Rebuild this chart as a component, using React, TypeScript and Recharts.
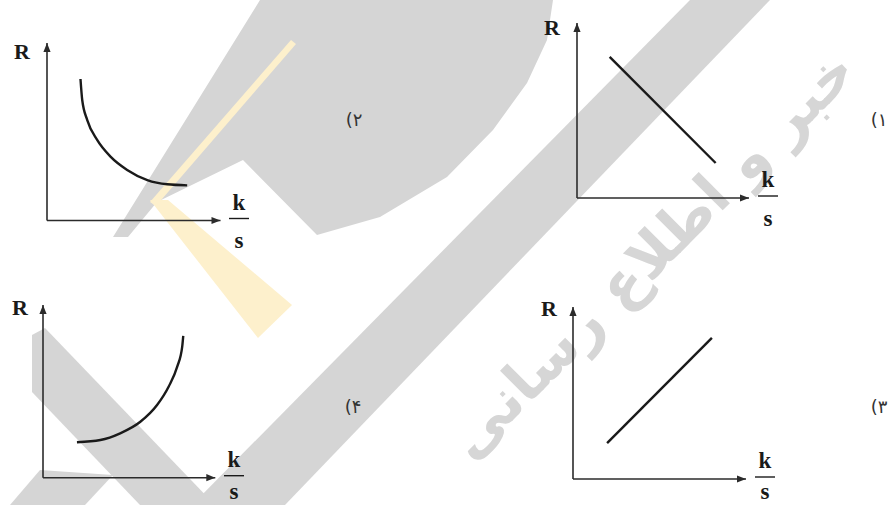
import { LineChart, Line, XAxis, YAxis, ReferenceDot, ReferenceLine } from "recharts";

// option 1: straight falling line
const line1X = [1.9, 8.06];
const line1R = [8.06, 2.0];
// option 2: falling curve
const curve2X = [1.93, 2.03, 2.32, 2.89, 3.66, 4.62, 5.78, 6.93, 8.08];
const curve2R = [7.97, 6.79, 5.66, 4.54, 3.6, 2.85, 2.28, 2.04, 1.98];
// option 3: straight rising line
const line3X = [1.97, 8.03];
const line3R = [2.09, 8.2];
// option 4: rising curve
const curve4X = [1.97, 3.33, 4.48, 5.65, 6.62, 7.29, 7.79, 8.08, 8.14];
const curve4R = [2.05, 2.18, 2.57, 3.24, 4.21, 5.27, 6.43, 7.59, 8.21];

// option numbers as they appear on the page, e.g. "(۲"
const optionLabels = ["(۱", "(۲", "(۳", "(۴"];
const yLabel = "R";
const xLabelTop = "k";
const xLabelBottom = "s";
const watermark = "خبر و اطلاع رسانی";
const axisMax = 10;

const PAD = 10;
const ink = "#1a1a1a";
const axisInk = "#2b2b2b";
const serif = "'Liberation Serif', 'Times New Roman', serif";

const arrowRight = (p: any) => (
  <path d={`M${p.cx},${p.cy} L${p.cx - 9},${p.cy - 3.6} L${p.cx - 9},${p.cy + 3.6} Z`} fill={axisInk} />
);
const arrowUp = (p: any) => (
  <path d={`M${p.cx},${p.cy} L${p.cx - 3.6},${p.cy + 9} L${p.cx + 3.6},${p.cy + 9} Z`} fill={axisInk} />
);

type Box = { x0: number; x1: number; y0: number; y1: number };

function Panel({ box, xs, rs, curved }: { box: Box; xs: number[]; rs: number[]; curved: boolean }) {
  const data = xs.map((x, i) => ({ x, r: rs[i] }));
  const w = box.x1 - box.x0;
  const h = box.y1 - box.y0;
  return (
    <div style={{ position: "absolute", left: box.x0 - PAD, top: box.y0 - PAD }}>
      <LineChart
        width={w + 2 * PAD}
        height={h + 2 * PAD}
        data={data}
        margin={{ top: PAD, right: PAD, bottom: PAD, left: PAD }}
      >
        <XAxis dataKey="x" type="number" domain={[0, axisMax]} height={0} tick={false} tickLine={false} axisLine={false} />
        <YAxis type="number" domain={[0, axisMax]} width={0} tick={false} tickLine={false} axisLine={false} />
        <ReferenceLine y={0} stroke={axisInk} strokeWidth={1.6} ifOverflow="visible" />
        <ReferenceLine x={0} stroke={axisInk} strokeWidth={1.6} ifOverflow="visible" />
        <Line
          dataKey="r"
          type={curved ? "monotone" : "linear"}
          stroke={ink}
          strokeWidth={2.4}
          dot={false}
          activeDot={false}
          isAnimationActive={false}
        />
        <ReferenceDot x={axisMax} y={0} r={0} ifOverflow="visible" shape={arrowRight} />
        <ReferenceDot x={0} y={axisMax} r={0} ifOverflow="visible" shape={arrowUp} />
      </LineChart>
    </div>
  );
}

const panels = [
  { box: { x0: 577, x1: 749, y0: 23, y1: 198 }, xs: line1X, rs: line1R, curved: false, rPos: [552, 27], numX: 879 },
  { box: { x0: 46.5, x1: 220, y0: 43, y1: 220.5 }, xs: curve2X, rs: curve2R, curved: true, rPos: [22, 51], numX: 354 },
  { box: { x0: 573, x1: 746, y0: 307, y1: 479 }, xs: line3X, rs: line3R, curved: false, rPos: [549, 308], numX: 879 },
  { box: { x0: 42.7, x1: 215, y0: 305, y1: 477.7 }, xs: curve4X, rs: curve4R, curved: true, rPos: [20, 307], numX: 353 },
];
const numY = [120, 120, 407, 407];

function Watermark() {
  const gray = "#d5d5d5";
  return (
    <svg width={888} height={505} style={{ position: "absolute", left: 0, top: 0 }}>
      <polygon fill={gray} points="113,237 260,0 553,0 547,40 527,83 493,130 447,177 380,217 317,235 243,160 157,202 128,237" />
      <polygon fill={gray} points="192,505 285,505 770,0 690,0" />
      <polygon fill={gray} points="32,335 45,328 215,505 140,505 32,392" />
      <polygon fill={gray} points="10,505 40,470 113,475 85,505" />
      <polygon fill="#fdf0cc" points="150,200 168,200 292,305 258,338" />
      <polygon fill="#fdf0cc" points="150,202 291,40 296,44 156,206" />
      <text
        x={665}
        y={268}
        transform="rotate(-45 665 268)"
        textAnchor="middle"
        fontSize={58}
        fontWeight="bold"
        fill="#d6d6d6"
        fontFamily="'DejaVu Sans', sans-serif"
        style={{ direction: "rtl" }}
      >
        {watermark}
      </text>
    </svg>
  );
}

export default function App() {
  return (
    <div style={{ position: "absolute", left: 0, top: 0, width: 888, height: 505, background: "#fff", overflow: "hidden" }}>
      <Watermark />
      {panels.map((p, i) => (
        <Panel key={i} box={p.box} xs={p.xs} rs={p.rs} curved={p.curved} />
      ))}
      <svg width={888} height={505} style={{ position: "absolute", left: 0, top: 0 }}>
        {panels.map((p, i) => (
          <g key={i} fill={ink} fontFamily={serif} fontWeight="bold">
            <text x={p.rPos[0]} y={p.rPos[1] + 7.5} fontSize={22} textAnchor="middle">{yLabel}</text>
            <text x={p.box.x1 + 19} y={p.box.y1 - 19 + 8} fontSize={23} textAnchor="middle">{xLabelTop}</text>
            <line x1={p.box.x1 + 9} x2={p.box.x1 + 29} y1={p.box.y1 - 2} y2={p.box.y1 - 2} stroke={ink} strokeWidth={1.4} />
            <text x={p.box.x1 + 19} y={Math.min(p.box.y1 + 22 + 5.5, 499)} fontSize={23} textAnchor="middle">{xLabelBottom}</text>
            <text
              x={p.numX}
              y={numY[i] + 6}
              fontSize={18}
              fontWeight="normal"
              fill="#333"
              fontFamily="'DejaVu Sans', sans-serif"
              textAnchor="middle"
            >
              {optionLabels[i]}
            </text>
          </g>
        ))}
      </svg>
    </div>
  );
}
